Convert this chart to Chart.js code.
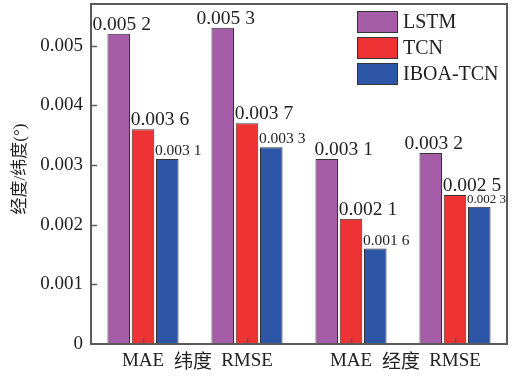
<!DOCTYPE html>
<html><head><meta charset="utf-8">
<script src="https://cdn.jsdelivr.net/npm/chart.js@4/dist/chart.umd.min.js"></script>
<style>html,body{margin:0;padding:0;background:#fff}</style>
</head><body>
<canvas id="c" width="517" height="376"></canvas>
<script>
// Error of three models on latitude / longitude prediction
const categories = ['MAE', 'RMSE', 'MAE', 'RMSE'];
const groupNames = ['纬度', '经度'];
const seriesNames = ['LSTM', 'TCN', 'IBOA-TCN'];
const lstm = [0.0052, 0.0053, 0.0031, 0.0032];
const tcn = [0.0036, 0.0037, 0.0021, 0.0025];
const iboaTcn = [0.0031, 0.0033, 0.0016, 0.0023];
const yTicks = [0, 0.001, 0.002, 0.003, 0.004, 0.005];
const yMax = 0.0057;
const yTitle = '经度/纬度(°)';

const SERIF = "'Liberation Serif','Times New Roman','Noto Sans CJK SC',serif";
const colors = ['#A45DA6', '#EE3334', '#2E56A6'];
const edge = '#333333';
const axisColor = '#5a5a5a';

// value-label look per series: font size and horizontal anchoring per bar
const labelStyle = [
  { size: [19.5, 19.5, 19.5, 19.5], align: ['center', 'center', 'left', 'center'] },
  { size: [19.5, 19.5, 19.5, 19.5], align: ['left', 'left', 'left', 'left'] },
  { size: [15.5, 15.5, 15.5, 13], align: ['left', 'left', 'left', 'left'] }
];

const fmt = v => { const s = v.toFixed(4); return s.slice(0, 5) + ' ' + s.slice(5); };

const frameAndTicks = {
  id: 'frameAndTicks',
  afterDatasetsDraw(chart) {
    const { ctx, chartArea: a, scales } = chart;
    ctx.save();
    ctx.strokeStyle = axisColor;
    ctx.lineWidth = 2;
    ctx.strokeRect(a.left, a.top, a.right - a.left, a.bottom - a.top);
    ctx.lineWidth = 1.5;
    ctx.beginPath();
    yTicks.forEach(t => {
      const y = Math.round(scales.y.getPixelForValue(t)) + 0.5;
      if (t === 0) return;
      ctx.moveTo(a.left, y); ctx.lineTo(a.left + 6, y);
    });
    categories.forEach((c, i) => {
      const x = Math.round(scales.x.getPixelForValue(i)) + 0.5;
      ctx.moveTo(x, a.bottom); ctx.lineTo(x, a.bottom - 6);
    });
    ctx.stroke();

    // group names between each MAE / RMSE pair
    ctx.fillStyle = '#222';
    ctx.font = '19px ' + SERIF;
    ctx.textAlign = 'center';
    ctx.textBaseline = 'alphabetic';
    groupNames.forEach((g, k) => {
      const x = (scales.x.getPixelForValue(2 * k) + scales.x.getPixelForValue(2 * k + 1)) / 2 - 2;
      ctx.fillText(g, x, a.bottom + 24);
    });

    // rotated y-axis title
    ctx.save();
    ctx.translate(21, (a.top + a.bottom) / 2 - 5);
    ctx.rotate(-Math.PI / 2);
    ctx.font = '17px ' + SERIF;
    ctx.textBaseline = 'middle';
    ctx.fillText(yTitle, 0, 0);
    ctx.restore();

    // value labels
    ctx.textBaseline = 'alphabetic';
    chart.data.datasets.forEach((ds, di) => {
      const meta = chart.getDatasetMeta(di);
      meta.data.forEach((bar, i) => {
        const st = labelStyle[di];
        ctx.font = st.size[i] + 'px ' + SERIF;
        ctx.textAlign = st.align[i];
        const x = st.align[i] === 'left' ? bar.x - bar.width / 2 - 1 : bar.x + 3;
        ctx.fillText(fmt(ds.data[i]), x, bar.y - 4);
      });
    });

    // legend in the upper right of the plot
    const bx = a.right - 150, bw = 41, bh = 22;
    chart.data.datasets.forEach((ds, di) => {
      const by = a.top + 7 + di * 26;
      ctx.fillStyle = ds.backgroundColor;
      ctx.fillRect(bx, by, bw, bh);
      ctx.strokeStyle = edge;
      ctx.lineWidth = 1;
      ctx.strokeRect(bx + 0.5, by + 0.5, bw - 1, bh - 1);
      ctx.fillStyle = '#222';
      ctx.font = '20px ' + SERIF;
      ctx.textAlign = 'left';
      ctx.textBaseline = 'middle';
      ctx.fillText(ds.label, bx + 46, by + bh / 2 + 1);
      ctx.textBaseline = 'alphabetic';
    });
    ctx.restore();
  }
};

const series = [lstm, tcn, iboaTcn];
new Chart(document.getElementById('c'), {
  type: 'bar',
  data: {
    labels: categories,
    datasets: series.map((d, i) => ({
      label: seriesNames[i],
      data: d,
      backgroundColor: colors[i],
      borderColor: edge,
      borderWidth: 1,
      barPercentage: 0.93,
      categoryPercentage: 0.70
    }))
  },
  options: {
    responsive: false,
    animation: false,
    devicePixelRatio: 1,
    layout: { padding: { top: 4, right: 10, left: 0, bottom: 0 } },
    plugins: { legend: { display: false }, tooltip: { enabled: false } },
    scales: {
      x: {
        grid: { display: false, drawTicks: false },
        border: { display: false },
        ticks: { color: '#222', font: { family: SERIF, size: 19 }, padding: 6, maxRotation: 0 },
        afterFit: s => { s.height = 32; s.paddingLeft = 0; s.paddingRight = 0; }
      },
      y: {
        min: 0, max: yMax,
        grid: { display: false, drawTicks: false },
        border: { display: false },
        afterBuildTicks: s => { s.ticks = yTicks.map(v => ({ value: v })); },
        ticks: {
          color: '#222', padding: 8,
          font: { family: SERIF, size: 19 },
          callback: v => v === 0 ? '0' : v.toFixed(3)
        },
        afterFit: s => { s.width = 91; s.paddingTop = 0; s.paddingBottom = 0; }
      }
    }
  },
  plugins: [frameAndTicks]
});
</script>
</body></html>
